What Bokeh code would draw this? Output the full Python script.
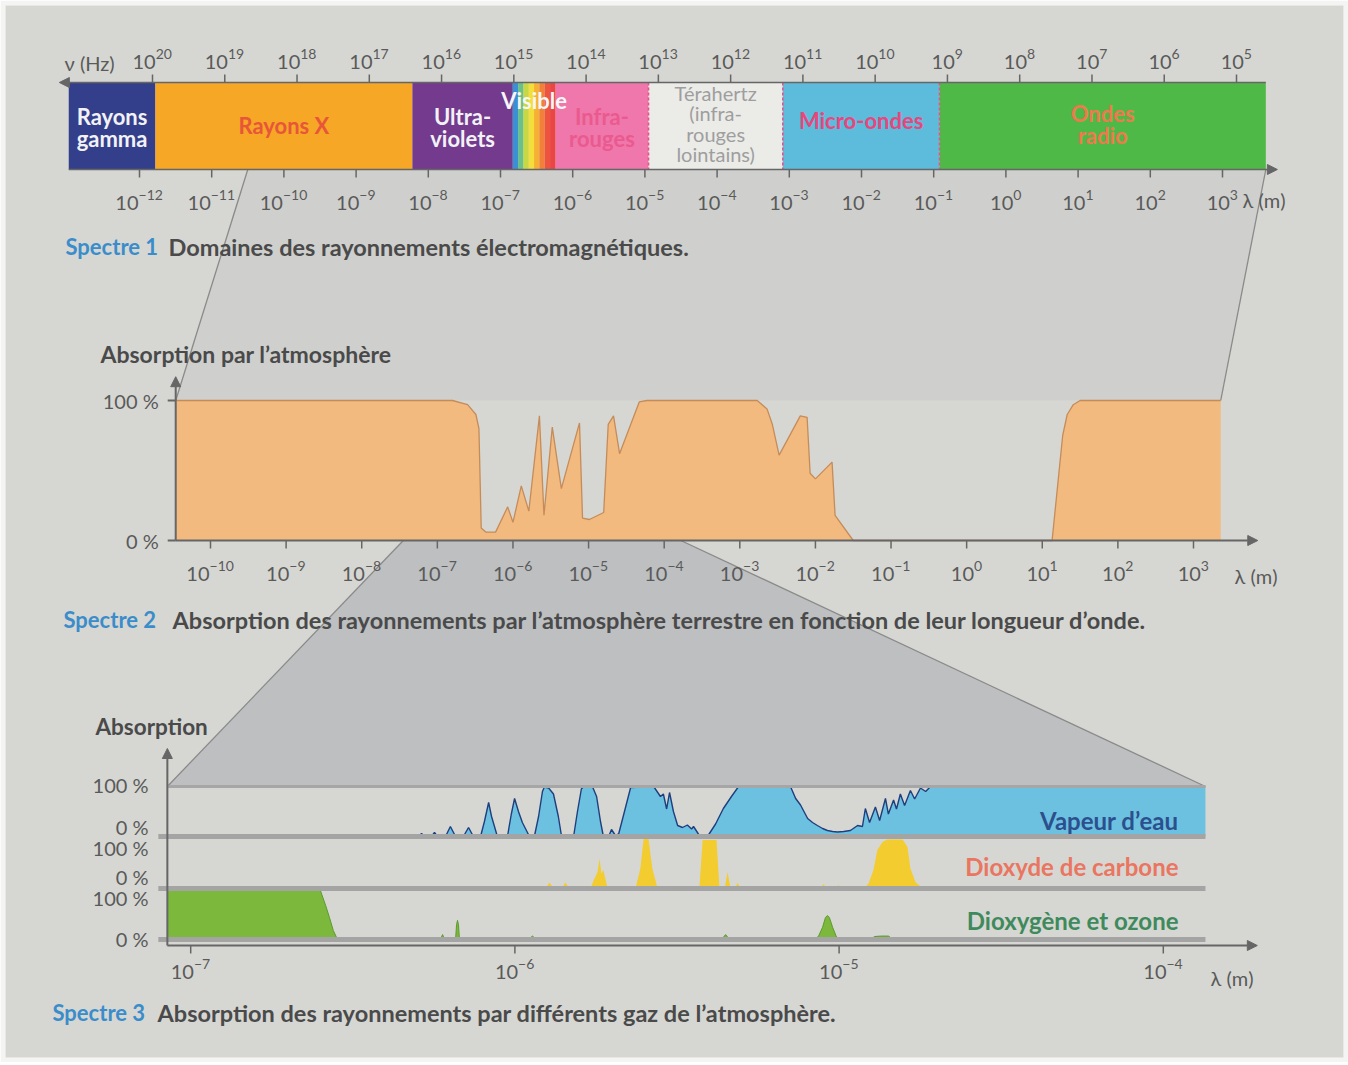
import numpy as np
from bokeh.plotting import figure
from bokeh.models import Range1d, Arrow, NormalHead
from bokeh.embed import file_html
from bokeh.resources import INLINE
from bokeh.core.properties import value

# ======================= DATA =======================
# Spectre 1 : domaines (bornes en log10 de la longueur d'onde, m)
domain_labels = ["Rayons\ngamma", "Rayons X", "Ultra-\nviolets", "Visible",
                 "Infra-\nrouges", "Térahertz\n(infra-\nrouges\nlointains)",
                 "Micro-ondes", "Ondes\nradio"]
domain_lo = [-12.98, -11.78, -8.22, -6.83, -6.24, -4.95, -3.09, -0.92]
domain_hi = [-11.78, -8.22, -6.83, -6.24, -4.95, -3.09, -0.92, 3.60]
domain_colors = ["#333f8b", "#f6a725", "#733a8d", None, "#ef77ab",
                 "#ebebe8", "#5dbcdc", "#4fb948"]
domain_text_colors = ["#f2f2f6", "#e8563a", "#f2f2f6", "#f6f6f6", "#ea5a8e",
                      "#9e9e9e", "#e8467c", "#ee7a4c"]
rainbow = ["#3b8fd3", "#69c08a", "#c8d844", "#f4de3b", "#f7b130",
           "#f2803a", "#ed5440", "#ea4644"]
lambda_ticks_1 = list(range(-12, 4))
nu_ticks_1 = list(range(20, 4, -1))

# Spectre 2 : absorption par l'atmosphère (log10 lambda, %)
atm_lg = [-10.46, -6.80, -6.60, -6.49, -6.45, -6.42, -6.36, -6.23, -6.07, -6.00,
          -5.89, -5.79, -5.65, -5.59, -5.48, -5.36, -5.12, -5.08, -4.99, -4.80,
          -4.74, -4.67, -4.59, -4.33, -4.23, -2.77, -2.64, -2.57, -2.48, -2.20,
          -2.11, -2.07, -2.00, -1.78, -1.74, -1.50, 1.13, 1.27, 1.33, 1.41,
          1.50, 3.36]
atm_abs = [100, 100, 97, 90, 80, 9, 6, 6, 24, 13,
           39, 21, 89, 18, 81, 37, 84, 16, 15, 20,
           83, 89, 62, 99, 100, 100, 94, 83, 61, 89,
           88, 48, 44, 56, 18, 0, 0, 75, 90, 97,
           100, 100]
lambda_ticks_2 = list(range(-10, 4))

# Spectre 3 : absorption par les gaz (log10 lambda, %)
vap_lg = [-6.307, -6.297, -6.288, -6.279, -6.257, -6.248, -6.239, -6.214, -6.199, -6.183,
          -6.159, -6.143, -6.128, -6.106, -6.094, -6.081, -6.072, -6.054, -6.023, -6.011,
          -6.001, -5.989, -5.977, -5.955, -5.940, -5.927, -5.915, -5.909, -5.896, -5.881,
          -5.866, -5.856, -5.819, -5.807, -5.795, -5.788, -5.761, -5.748, -5.736, -5.727,
          -5.711, -5.702, -5.690, -5.680, -5.662, -5.643, -5.572, -5.551, -5.542, -5.532,
          -5.523, -5.511, -5.498, -5.483, -5.468, -5.455, -5.449, -5.434, -5.428, -5.406,
          -5.381, -5.357, -5.332, -5.310, -5.150, -5.134, -5.119, -5.097, -5.082, -5.067,
          -5.051, -5.036, -5.020, -5.005, -4.986, -4.965, -4.943, -4.928, -4.919, -4.906,
          -4.888, -4.875, -4.857, -4.848, -4.832, -4.823, -4.811, -4.798, -4.780, -4.767,
          -4.749, -4.733, -4.718, -3.870]
vap_abs = [0, 0, 6, 0, 0, 8, 0, 0, 20, 0,
           0, 18, 0, 0, 30, 68, 40, 0, 0, 45,
           76, 50, 28, 0, 0, 40, 90, 99, 97, 85,
           40, 0, 0, 50, 95, 100, 100, 80, 30, 0,
           0, 14, 2, 5, 50, 98, 100, 80, 85, 55,
           88, 50, 22, 18, 23, 15, 20, 5, 0, 0,
           25, 56, 80, 100, 100, 76, 63, 36, 28, 22,
           16, 12, 10, 9, 10, 12, 22, 20, 56, 28,
           59, 32, 76, 45, 73, 55, 85, 62, 92, 75,
           97, 90, 100, 100]
co2_lg = [-5.906, -5.893, -5.881, -5.856, -5.844, -5.832, -5.767, -5.758, -5.745, -5.739,
          -5.733, -5.727, -5.714, -5.628, -5.613, -5.603, -5.588, -5.576, -5.560, -5.431,
          -5.421, -5.378, -5.369, -5.353, -5.344, -5.335, -5.323, -5.313, -5.304, -5.057,
          -5.048, -5.039, -5.011, -5.002, -4.993, -4.925, -4.909, -4.894, -4.882, -4.866,
          -4.851, -4.804, -4.789, -4.780, -4.764, -4.740]
co2_abs = [0, 12, 0, 0, 12, 0, 0, 15, 33, 60,
           30, 37, 0, 0, 40, 99, 99, 40, 0, 0,
           97, 97, 0, 0, 33, 0, 0, 11, 0, 0,
           9, 0, 0, 7, 0, 0, 10, 37, 77, 93,
           98, 98, 83, 40, 12, 0]
o2_lg = [-7.072, -6.600, -6.584, -6.572, -6.560, -6.547, -6.230, -6.223, -6.217, -6.183,
         -6.180, -6.177, -6.174, -6.171, -5.958, -5.946, -5.933, -5.523, -5.520, -5.517,
         -5.363, -5.350, -5.338, -5.079, -5.064, -5.051, -5.042, -5.036, -5.030, -5.020,
         -5.008, -4.996, -4.903, -4.891, -4.872, -4.848, -4.832]
o2_abs = [100, 100, 70, 45, 18, 0, 0, 10, 0, 0,
          30, 39, 30, 0, 0, 7, 0, 0, 3, 0,
          0, 10, 0, 0, 6, 25, 45, 49, 45, 25,
          5, 0, 0, 6, 7, 7, 0]
lambda_ticks_3 = [-7, -6, -5, -4]
gas_names = ["Vapeur d’eau", "Dioxyde de carbone", "Dioxygène et ozone"]

# zoom windows (log10 lambda) shown by the grey connectors
zoom_1_to_2 = [-10.5, 3.6]
zoom_2_to_3 = [-7.45, -3.78]

# ======================= STYLE / LAYOUT =======================
PW, PH = 1348, 1062          # figure size (page starts at 0,0)
MB = 5                       # light photo border
X0, Y0 = MB, MB
X1, Y1 = PW - MB, PH - MB
BG = "#d6d7d3"
EDGE = "#f4f4f3"
CONN1 = "#cfd0cd"
CONN2 = "#bdbfc1"
CONN_LINE = "#8a8a8a"
AXC = "#666666"
TICKC = "#5a5a5a"
DARK = "#4a4a4a"
BLUE_T = "#3a8dca"
FONT = value("Lato")
CAP = 23.5                   # caption font size
CAP_TAG = 22                 # "Spectre N" font size

S1_REF = (-12, 139, 3, 1222)
NU_REF = (20, 152, 5, 1236)
BAND_TOP, BAND_BOT = 82, 169
S2_REF = (-10, 210, 3, 1193)
S2_Y = (540, 400)
S2_AXIS_END = 3.85
S3_REF = (-7, 190.2, -4, 1162.8)
ROWS = {"vap": (836, 786), "co2": (888, 838), "o2": (939, 890)}
S3_AXIS_Y = 945
S3_AXIS_END = -3.71
BASE_W, EXP_W = 23.0, 8.3    # approx. widths (px) of "10" and of one exponent glyph


def xmap(ref):
    d0, q0, d1, q1 = ref
    s = (q1 - q0) / (d1 - d0)
    return Range1d(d0 + (X0 - q0) / s, d0 + (X1 - q0) / s), (lambda d: q0 + (d - d0) * s)


def ymap(q0, q100):
    s = (q0 - q100) / 100.0
    return Range1d(-(Y1 - q0) / s, (q0 - Y0) / s), (lambda v: q0 - v * s)


p = figure(width=PW, height=PH, x_range=Range1d(X0, X1), y_range=Range1d(Y1, Y0),
           output_backend="svg", toolbar_location=None, min_border=MB,
           x_axis_location=None, y_axis_location=None)
p.grid.visible = False
p.outline_line_color = None
p.background_fill_color = BG
p.border_fill_color = EDGE

r_s1, fx1 = xmap(S1_REF)
r_nu, _ = xmap(NU_REF)
r_s2, fx2 = xmap(S2_REF)
r_s3, fx3 = xmap(S3_REF)
r_s2y, fy2 = ymap(*S2_Y)
rmap = {k: ymap(*v) for k, v in ROWS.items()}
p.extra_x_ranges = {"s1": r_s1, "nu": r_nu, "s2": r_s2, "s3": r_s3}
p.extra_y_ranges = {"s2y": r_s2y, "vap": rmap["vap"][0], "co2": rmap["co2"][0], "o2": rmap["o2"][0]}


def txt(x, y, s, size=20, color=TICKC, align="left", bold=False, xr="default", yr="default",
        lh=1.2, xoff=0):
    ss = s if isinstance(s, list) else [s]
    n = len(ss)
    xs = list(x) if isinstance(x, (list, np.ndarray)) else [x] * n
    ys = list(y) if isinstance(y, (list, np.ndarray)) else [y] * n
    cs = color if isinstance(color, list) else [color] * n
    xo = xoff if isinstance(xoff, list) else [xoff] * n
    p.text(x=xs, y=ys, text=ss, x_range_name=xr, y_range_name=yr, text_font=FONT,
           text_font_size=f"{size}px", text_color=cs, text_align=align,
           text_baseline="middle", text_font_style="bold" if bold else "normal",
           text_line_height=lh, x_offset=xo)


def pow_labels(ticks, y, xr):
    exps = [str(t).replace("-", "−") for t in ticks]
    off = [(BASE_W - EXP_W * len(e)) / 2 for e in exps]
    txt(ticks, y, ["10"] * len(ticks), size=20, align="right", xr=xr, xoff=off)
    txt(ticks, y - 8, exps, size=14, align="left", xr=xr, xoff=off)


def arrow(xs, ys, xe, ye, xr="default", yr="default", w=2):
    p.add_layout(Arrow(end=NormalHead(size=10, fill_color=AXC, line_color=AXC),
                       x_start=xs, y_start=ys, x_end=xe, y_end=ye,
                       x_range_name=xr, y_range_name=yr, line_color=AXC, line_width=w))


# ---------- connectors ----------
c1x = [fx1(zoom_1_to_2[0]), fx1(zoom_1_to_2[1]), fx2(atm_lg[-1]), fx2(atm_lg[0])]
c1y = [BAND_BOT, BAND_BOT, fy2(100), fy2(100)]
p.patch(c1x, c1y, fill_color=CONN1, line_color=None)
p.segment(x0=[c1x[0], c1x[1]], y0=[c1y[0], c1y[1]], x1=[c1x[3], c1x[2]], y1=[c1y[3], c1y[2]],
          line_color=CONN_LINE, line_width=1.3)
fv = rmap["vap"][1]
c2x = [fx2(zoom_2_to_3[0]), fx2(zoom_2_to_3[1]), fx3(vap_lg[-1]), fx3(o2_lg[0])]
c2y = [fy2(0), fy2(0), fv(100), fv(100)]
p.patch(c2x, c2y, fill_color=CONN2, line_color=None)
p.segment(x0=[c2x[0], c2x[1]], y0=[c2y[0], c2y[1]], x1=[c2x[3], c2x[2]], y1=[c2y[3], c2y[2]],
          line_color=CONN_LINE, line_width=1.3)

# ---------- Spectre 1 ----------
idx = [i for i in range(len(domain_lo)) if domain_colors[i] is not None]
p.quad(left=[domain_lo[i] for i in idx], right=[domain_hi[i] for i in idx],
       top=BAND_TOP, bottom=BAND_BOT, fill_color=[domain_colors[i] for i in idx],
       line_color=None, x_range_name="s1")
edges = np.linspace(domain_lo[3], domain_hi[3], len(rainbow) + 1)
p.quad(left=edges[:-1], right=edges[1:], top=BAND_TOP, bottom=BAND_BOT,
       fill_color=rainbow, line_color=None, x_range_name="s1")
bounds = [domain_lo[5], domain_lo[6], domain_lo[7]]
p.segment(x0=bounds, x1=bounds, y0=BAND_TOP, y1=BAND_BOT, line_color="#e4558a",
          line_dash="3 2", line_width=1.6, x_range_name="s1")
arrow(domain_hi[-1], BAND_TOP, domain_lo[0] - 0.13, BAND_TOP, xr="s1", w=1.5)
arrow(domain_lo[0], BAND_BOT, domain_hi[-1] + 0.16, BAND_BOT, xr="s1", w=1.5)
p.segment(x0=lambda_ticks_1, x1=lambda_ticks_1, y0=BAND_BOT, y1=BAND_BOT + 8,
          line_color=AXC, line_width=1.5, x_range_name="s1")
p.segment(x0=nu_ticks_1, x1=nu_ticks_1, y0=BAND_TOP - 8, y1=BAND_TOP,
          line_color=AXC, line_width=1.5, x_range_name="nu")
pow_labels(lambda_ticks_1, 202, "s1")
pow_labels(nu_ticks_1, 61, "nu")
txt(64, 62, "ν (Hz)", size=20)
txt(1242, 199, "λ (m)", size=20)
label_y = [127, 125, 127, 100, 127, 123, 120, 124]
for i, lab in enumerate(domain_labels):
    if i == 5:
        size, lh, bold = 20, 0.86, False
    else:
        size, lh, bold = 22, 0.84, True
    txt((domain_lo[i] + domain_hi[i]) / 2, label_y[i], lab, size=size,
        color=domain_text_colors[i], align="center", bold=bold, xr="s1", lh=lh)
txt(65, 246, "Spectre 1", size=CAP_TAG, color=BLUE_T, bold=True)
txt(168, 246, "Domaines des rayonnements électromagnétiques.", size=CAP, color=DARK, bold=True)

# ---------- Spectre 2 ----------
p.varea(x=atm_lg, y1=0, y2=atm_abs, fill_color="#f2ba7e", x_range_name="s2", y_range_name="s2y")
p.line(atm_lg, atm_abs, line_color="#c58c5a", line_width=1.3, x_range_name="s2", y_range_name="s2y")
arrow(atm_lg[0], 0, S2_AXIS_END, 0, xr="s2", yr="s2y")
arrow(atm_lg[0], 0, atm_lg[0], 117, xr="s2", yr="s2y")
ax2 = fx2(atm_lg[0])
p.segment(x0=ax2 - 8, x1=ax2, y0=[0, 100], y1=[0, 100], line_color=AXC, line_width=2,
          y_range_name="s2y")
p.segment(x0=lambda_ticks_2, x1=lambda_ticks_2, y0=fy2(0), y1=fy2(0) + 8,
          line_color=AXC, line_width=1.5, x_range_name="s2")
pow_labels(lambda_ticks_2, fy2(0) + 33, "s2")
txt(1234, fy2(0) + 35, "λ (m)")
txt(ax2 - 17, [100, 0], ["100 %", "0 %"], align="right", yr="s2y")
txt(100, 353, "Absorption par l’atmosphère", size=23, color=DARK, bold=True)
txt(63, 619, "Spectre 2", size=CAP_TAG, color=BLUE_T, bold=True)
txt(172, 619, "Absorption des rayonnements par l’atmosphère terrestre en fonction de leur longueur d’onde.",
    size=CAP, color=DARK, bold=True)

# ---------- Spectre 3 ----------
p.varea(x=vap_lg, y1=0, y2=vap_abs, fill_color="#6cc1e0", x_range_name="s3", y_range_name="vap")
p.line(vap_lg[:-1], vap_abs[:-1], line_color="#1f3e7e", line_width=1.4, x_range_name="s3", y_range_name="vap")
p.varea(x=co2_lg, y1=0, y2=co2_abs, fill_color="#f3cc2f", x_range_name="s3", y_range_name="co2")
p.varea(x=o2_lg, y1=0, y2=o2_abs, fill_color="#7cb83b", x_range_name="s3", y_range_name="o2")
p.line(o2_lg[1:], o2_abs[1:], line_color="#5d9a30", line_width=1, x_range_name="s3", y_range_name="o2")

ax3 = fx3(o2_lg[0])
end3 = fx3(vap_lg[-1])
p.segment(x0=[ax3], x1=[end3], y0=[100], y1=[100], line_color="#a6a6a6", line_width=3, y_range_name="vap")
for rname in ["vap", "co2", "o2"]:
    p.segment(x0=[ax3 - 9], x1=[end3], y0=[0], y1=[0], line_color="#a4a4a4", line_width=5,
              y_range_name=rname)
arrow(o2_lg[0], S3_AXIS_Y, S3_AXIS_END, S3_AXIS_Y, xr="s3")
arrow(o2_lg[0], S3_AXIS_Y, o2_lg[0], 748, xr="s3")
p.segment(x0=lambda_ticks_3, x1=lambda_ticks_3, y0=S3_AXIS_Y, y1=S3_AXIS_Y + 8,
          line_color=AXC, line_width=1.5, x_range_name="s3")
pow_labels(lambda_ticks_3, S3_AXIS_Y + 26, "s3")
txt(1210, S3_AXIS_Y + 32, "λ (m)")
txt(148, [784, 826, 847, 876, 897, 938], ["100 %", "0 %", "100 %", "0 %", "100 %", "0 %"], align="right")
txt(95, 726, "Absorption", size=22.5, color=DARK, bold=True)
txt(1178, [820, 866, 920], gas_names, size=24, color=["#2c4f8e", "#ea7560", "#3f8a5c"],
    align="right", bold=True)
txt(52, 1012, "Spectre 3", size=CAP_TAG, color=BLUE_T, bold=True)
txt(157, 1012, "Absorption des rayonnements par différents gaz de l’atmosphère.",
    size=CAP, color=DARK, bold=True)

open("out.html", "w").write(file_html(p, INLINE))
